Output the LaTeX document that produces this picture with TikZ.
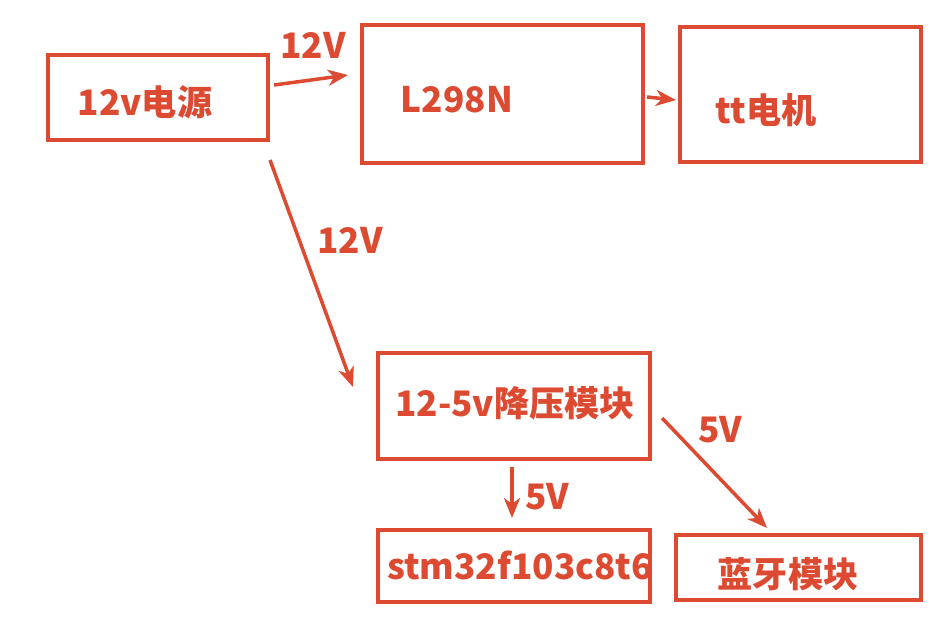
\documentclass[tikz,border=0pt]{standalone}
\usepackage{fontspec}
\setmainfont{Noto Sans CJK SC}
\usepackage{xcolor}
\usetikzlibrary{arrows.meta}
\definecolor{redline}{RGB}{221,74,50}

\begin{document}
\begin{tikzpicture}[
  every node/.style={font=\fontsize{20}{24}\selectfont\bfseries, text=redline},
  box/.style={draw=redline, line width=2.3pt, inner sep=0pt},
  arrow/.style={-{Stealth[length=0.4cm, width=0.32cm, inset=0.12cm]}, draw=redline, line width=2pt},
]

\useasboundingbox[fill=white] (0,0) rectangle (18.7,-12.58);

% boxes
\node[box, minimum width=4.4cm, minimum height=1.7cm] (power) at (3.16,-1.95) {};
\node[box, minimum width=5.62cm, minimum height=2.76cm] (driver) at (10.05,-1.88) {};
\node[box, minimum width=4.82cm, minimum height=2.7cm] (motor) at (16.01,-1.89) {};
\node[box, minimum width=5.44cm, minimum height=2.12cm] (buck) at (10.28,-8.12) {};
\node[box, minimum width=5.44cm, minimum height=1.44cm] (mcu) at (10.28,-11.32) {};
\node[box, minimum width=4.9cm, minimum height=1.3cm] (bt) at (15.97,-11.35) {};

% texts
\node (powertxt) at (2.9,-2.04) {12v电源};
\node (drivertxt) at (9.14,-2.0) {L298N};
\node (motortxt) at (15.32,-2.2) {tt电机};
\node (bucktxt) at (10.3,-8.06) {12-5v降压模块};
\node (mcutxt) at (10.4,-11.3) {stm32f103c8t6};
\node (bttxt) at (15.76,-11.48) {蓝牙模块};

% voltage labels
\node (v1) at (6.26,-0.9) {12V};
\node (v2) at (7.0,-4.8) {12V};
\node (v3) at (10.94,-9.94) {5V};
\node (v4) at (14.4,-8.6) {5V};

\draw[arrow] ([shift={(0.08,0.25)}]power.east) -- ([shift={(-0.24,0.38)}]driver.west);
\draw[arrow] ([shift={(0.04,-0.06)}]driver.east) -- ([shift={(-0.04,-0.11)}]motor.west);
\draw[arrow] ([shift={(0,-0.36)}]power.south east) -- ([shift={(-0.46,0.38)}]buck.west);
\draw[arrow] ([shift={(-0.04,-0.12)}]buck.south) -- ([shift={(-0.04,0.2)}]mcu.north);
\draw[arrow] ([shift={(0.2,-0.24)}]buck.east) -- ([shift={(-0.63,0.1)}]bt.north);

\end{tikzpicture}
\end{document}
